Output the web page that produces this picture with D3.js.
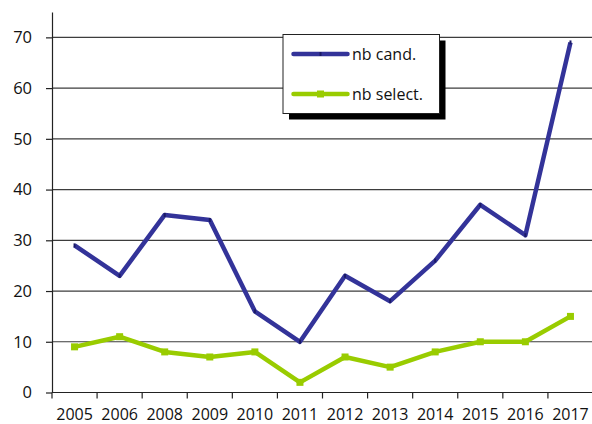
<!DOCTYPE html>
<html>
<head>
<meta charset="utf-8">
<script src="https://cdn.jsdelivr.net/npm/d3@7"></script>
<style>
  html, body { margin: 0; padding: 0; background: #fff; }
  svg { display: block; font-family: "Open Sans", "Noto Sans", sans-serif; }
</style>
</head>
<body>
<script>
// Candidates and selections per year (2007 has no entry)
const years = ["2005", "2006", "2008", "2009", "2010", "2011", "2012", "2013", "2014", "2015", "2016", "2017"];
const candidates = [29, 23, 35, 34, 16, 10, 23, 18, 26, 37, 31, 69];
const selected = [9, 11, 8, 7, 8, 2, 7, 5, 8, 10, 10, 15];
const yTicks = [0, 10, 20, 30, 40, 50, 60, 70];
const seriesNames = ["nb cand.", "nb select."];

const W = 592, H = 424;
const margin = { left: 52, top: 12, right: -1, bottom: 31.5 };
const blue = "#333399", green = "#99cc00";

const svg = d3.select("body").append("svg").attr("width", W).attr("height", H);

const x = d3.scaleBand().domain(years).range([margin.left, W - margin.right]);
const y = d3.scaleLinear().domain([0, 75]).range([H - margin.bottom, margin.top]);

// Horizontal gridlines
svg.append("g")
  .selectAll("line")
  .data(yTicks.filter(d => d > 0))
  .join("line")
  .attr("x1", margin.left).attr("x2", W)
  .attr("y1", d => y(d)).attr("y2", d => y(d))
  .attr("stroke", "#3d3d3d").attr("stroke-width", 1.2);

// Y axis
const yAxis = svg.append("g")
  .attr("transform", `translate(${margin.left},0)`)
  .call(d3.axisLeft(y).tickValues(yTicks).tickSize(6).tickPadding(14).tickSizeOuter(0));
yAxis.select(".domain").attr("stroke", "#222").attr("stroke-width", 1.2);
yAxis.selectAll(".tick line").attr("stroke", "#222").attr("stroke-width", 1.2);
yAxis.selectAll("text").attr("font-size", 16.5).attr("fill", "#111")
  .attr("font-family", "'Open Sans', sans-serif");

// X axis: ticks sit between categories
const xAxisG = svg.append("g").attr("transform", `translate(0,${y(0)})`);
xAxisG.append("line")
  .attr("x1", margin.left).attr("x2", W)
  .attr("stroke", "#222").attr("stroke-width", 1.2);
const bounds = years.map(d => x(d)).concat([x(years[years.length - 1]) + x.bandwidth()]);
xAxisG.selectAll("line.tk")
  .data(bounds)
  .join("line").attr("class", "tk")
  .attr("x1", d => d).attr("x2", d => d)
  .attr("y1", 0).attr("y2", 6)
  .attr("stroke", "#222").attr("stroke-width", 1.2);
xAxisG.selectAll("text")
  .data(years)
  .join("text")
  .attr("x", d => x(d) + x.bandwidth() / 2)
  .attr("y", 27)
  .attr("text-anchor", "middle")
  .attr("font-size", 16)
  .attr("fill", "#111")
  .text(d => d);

const cx = d => x(d) + x.bandwidth() / 2;
const line = d3.line().x(d => cx(d.year)).y(d => y(d.v));

const candData = years.map((yr, i) => ({ year: yr, v: candidates[i] }));
const selData = years.map((yr, i) => ({ year: yr, v: selected[i] }));

// Selected series
svg.append("path").datum(selData)
  .attr("d", line).attr("fill", "none")
  .attr("stroke", green).attr("stroke-width", 4.5).attr("stroke-linejoin", "round");
svg.append("g").selectAll("rect").data(selData).join("rect")
  .attr("x", d => cx(d.year) - 3.5).attr("y", d => y(d.v) - 3.5)
  .attr("width", 7).attr("height", 7).attr("fill", green);

// Candidates series
svg.append("path").datum(candData)
  .attr("d", line).attr("fill", "none")
  .attr("stroke", blue).attr("stroke-width", 4.5).attr("stroke-linejoin", "round");
svg.append("g").selectAll("rect").data(candData).join("rect")
  .attr("x", d => cx(d.year) - 1).attr("y", d => y(d.v) - 2)
  .attr("width", 2).attr("height", 4).attr("fill", "#1a1a66");

// Legend with drop shadow
const lg = svg.append("g").attr("transform", "translate(283,34.5)");
const lw = 156.5, lh = 79;
lg.append("rect").attr("x", 6).attr("y", 6).attr("width", lw).attr("height", lh).attr("fill", "#000");
lg.append("rect").attr("x", 0).attr("y", 0).attr("width", lw).attr("height", lh)
  .attr("fill", "#fff").attr("stroke", "#222").attr("stroke-width", 1);
const items = [
  { name: seriesNames[0], color: blue, marker: "dash" },
  { name: seriesNames[1], color: green, marker: "square" }
];
items.forEach((it, i) => {
  const yy = 19.5 + i * 40;
  lg.append("line").attr("x1", 10.5).attr("x2", 64.5).attr("y1", yy).attr("y2", yy)
    .attr("stroke", it.color).attr("stroke-width", 4.5).attr("stroke-linecap", "round");
  if (it.marker === "square") {
    lg.append("rect").attr("x", 37.5 - 3.5).attr("y", yy - 3.5).attr("width", 7).attr("height", 7)
      .attr("fill", it.color);
  } else {
    lg.append("rect").attr("x", 37.5 - 1).attr("y", yy - 2).attr("width", 2).attr("height", 4)
      .attr("fill", "#1a1a66");
  }
  lg.append("text").attr("x", 69).attr("y", yy + 5.5)
    .attr("font-size", 16).attr("fill", "#111").text(it.name);
});
</script>
</body>
</html>
